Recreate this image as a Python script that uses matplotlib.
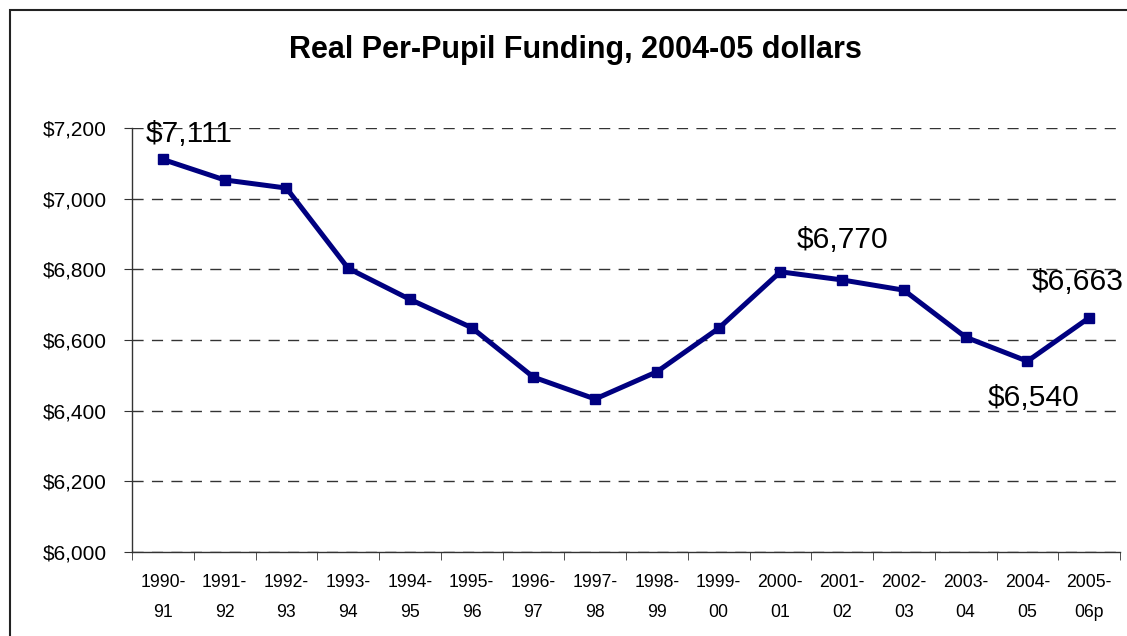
import matplotlib
matplotlib.use("Agg")
import matplotlib.pyplot as plt
from matplotlib.patches import Rectangle
from matplotlib.ticker import FuncFormatter, FixedLocator

plt.rcParams['font.family'] = ['Liberation Sans', 'DejaVu Sans']

years = ["1990-\n91", "1991-\n92", "1992-\n93", "1993-\n94", "1994-\n95", "1995-\n96",
         "1996-\n97", "1997-\n98", "1998-\n99", "1999-\n00", "2000-\n01", "2001-\n02",
         "2002-\n03", "2003-\n04", "2004-\n05", "2005-\n06p"]
funding = [7111, 7053, 7030, 6803, 6715, 6635, 6495, 6433, 6510, 6633,
           6793, 6770, 6741, 6608, 6540, 6663]
callout_idx = [0, 11, 15, 14]
callout_text = ["$7,111", "$6,770", "$6,663", "$6,540"]
callout_offset = [(26, 25), (0, 40), (-11, 36), (6, -37)]

W, H = 1127, 636
fig = plt.figure(figsize=(W / 100, H / 100), dpi=100)
ax = fig.add_axes([132 / W, (H - 552) / H, (1120 - 132) / W, (552 - 128) / H])

x = list(range(len(years)))
ax.plot(x, funding, color='#000080', lw=3.6, marker='s', ms=7,
        mfc='#000080', mec='#000080', zorder=3)

ax.set_xlim(-0.5, len(years) - 0.5)
ax.set_ylim(6000, 7200)
ax.set_yticks(range(6000, 7201, 200))
ax.yaxis.set_major_formatter(FuncFormatter(lambda v, p: f"${int(v):,}"))
ax.grid(axis='y', color='#333333', lw=1, ls=(0, (8, 6)), zorder=1)
ax.set_axisbelow(True)

ax.set_xticks(x)
ax.set_xticklabels(years, fontsize=12.7, linespacing=2.05)
ax.xaxis.set_minor_locator(FixedLocator([i - 0.5 for i in range(len(years) + 1)]))
ax.tick_params(axis='x', which='major', length=0, pad=15.5)
ax.tick_params(axis='x', which='minor', length=6, color='#333333', direction='out')
ax.tick_params(axis='y', length=6, color='#333333', direction='out', labelsize=15, pad=12)

for s in ['top', 'right']:
    ax.spines[s].set_visible(False)
for s in ['left', 'bottom']:
    ax.spines[s].set_color('#333333')
    ax.spines[s].set_linewidth(1)

for i, t, (dx, dy) in zip(callout_idx, callout_text, callout_offset):
    ax.annotate(t, xy=(i, funding[i]), xytext=(dx, dy), textcoords='offset pixels',
                ha='center', va='center', fontsize=21.6, color='black', zorder=4,
                annotation_clip=False)

fig.text(575 / W, 1 - 50 / H, "Real Per-Pupil Funding, 2004-05 dollars",
         ha='center', va='center', fontsize=22, fontweight='bold')

fig.patches.append(Rectangle((10 / W, -0.1), 1.2, 1 - 10 / H + 0.1,
                             transform=fig.transFigure, fill=False,
                             edgecolor='#222222', lw=1.5))

fig.savefig("out.png", dpi=100)
